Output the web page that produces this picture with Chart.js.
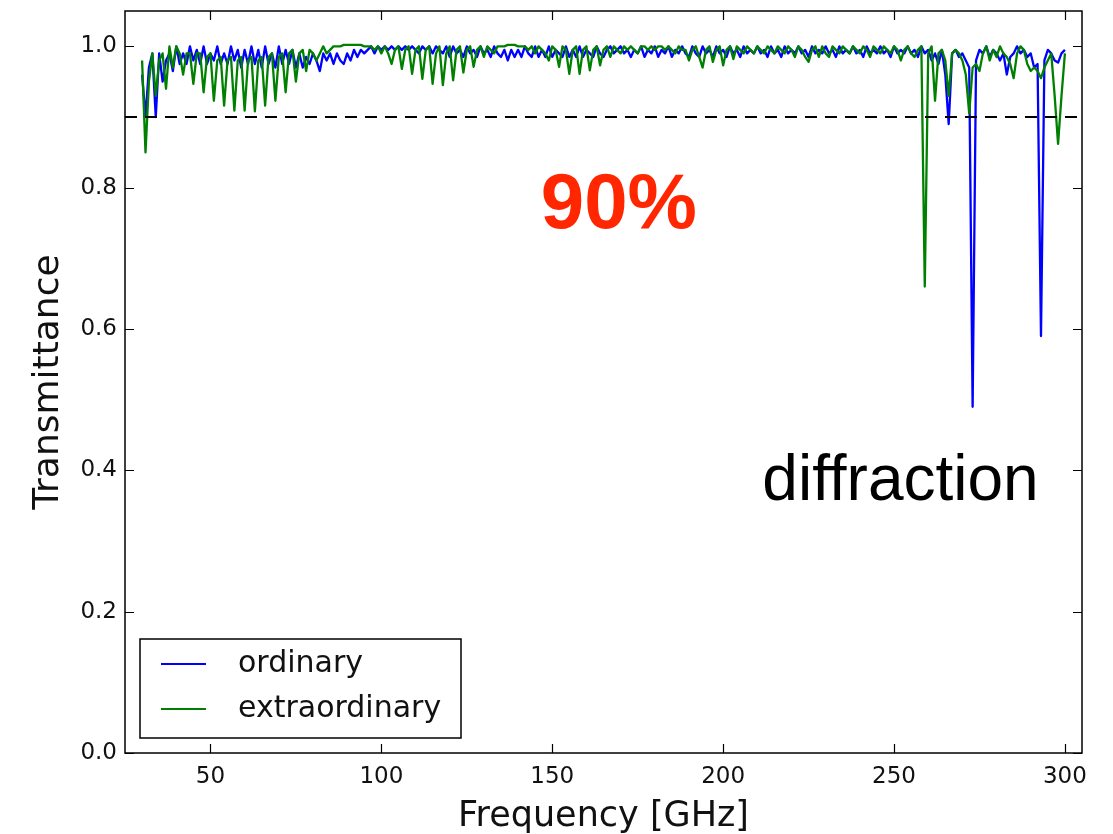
<!DOCTYPE html>
<html>
<head>
<meta charset="utf-8">
<script src="https://cdn.jsdelivr.net/npm/chart.js@4.4.0/dist/chart.umd.min.js"></script>
<style>
	html, body { margin: 0; padding: 0; background: #fff; }
	#wrap { width: 1113px; height: 834px; position: relative; }
</style>
</head>
<body>
<div id="wrap"><canvas id="chart"></canvas></div>
<script>
// frequency grid [GHz]
const freqs = [
	30,31,32,33,34,35,36,37,38,39,40,41,42,43,44,45,46,47,48,49,
	50,51,52,53,54,55,56,57,58,59,60,61,62,63,64,65,66,67,68,69,
	70,71,72,73,74,75,76,77,78,79,80,81,82,83,84,85,86,87,88,89,
	90,91,92,93,94,95,96,97,98,99,100,101,102,103,104,105,106,107,108,109,
	110,111,112,113,114,115,116,117,118,119,120,121,122,123,124,125,126,127,128,129,
	130,131,132,133,134,135,136,137,138,139,140,141,142,143,144,145,146,147,148,149,
	150,151,152,153,154,155,156,157,158,159,160,161,162,163,164,165,166,167,168,169,
	170,171,172,173,174,175,176,177,178,179,180,181,182,183,184,185,186,187,188,189,
	190,191,192,193,194,195,196,197,198,199,200,201,202,203,204,205,206,207,208,209,
	210,211,212,213,214,215,216,217,218,219,220,221,222,223,224,225,226,227,228,229,
	230,231,232,233,234,235,236,237,238,239,240,241,242,243,244,245,246,247,248,249,
	250,251,252,253,254,255,256,257,258,259,260,261,262,263,264,265,266,267,268,269,
	270,271,272,273,274,275,276,277,278,279,280,281,282,283,284,285,286,287,288,289,
	290,291,292,293,294,295,296,297,298,299,300
];

// ordinary (blue)
const ordinary = [
	0.96, 0.90, 0.97, 0.99, 0.90, 0.99, 0.95, 0.98, 0.99, 0.965,
	1.0, 0.975, 0.99, 0.975, 1.0, 0.98, 0.995, 0.975, 1.0, 0.975,
	0.99, 0.98, 1.0, 0.975, 0.99, 0.975, 1.0, 0.98, 0.995, 0.97,
	0.995, 0.975, 1.0, 0.975, 0.995, 0.97, 1.0, 0.975, 0.99, 0.97,
	1.0, 0.975, 0.995, 0.975, 0.995, 0.97, 0.99, 0.97, 0.985, 0.975,
	0.99, 0.98, 0.965, 0.99, 0.98, 0.99, 0.975, 0.99, 0.98, 0.975,
	0.99, 0.98, 0.995, 0.985, 0.995, 0.99, 0.995, 1.0, 0.99, 1.0,
	0.995, 1.0, 0.995, 1.0, 0.995, 1.0, 0.995, 1.0, 0.995, 1.0,
	0.995, 0.99, 1.0, 0.995, 1.0, 0.99, 1.0, 0.995, 0.99, 1.0,
	0.985, 1.0, 0.99, 0.995, 0.985, 1.0, 0.99, 0.995, 0.985, 1.0,
	0.99, 0.995, 0.985, 1.0, 0.99, 0.985, 0.995, 0.98, 0.995, 0.985,
	0.995, 0.985, 1.0, 0.99, 0.985, 1.0, 0.985, 0.995, 0.985, 1.0,
	0.985, 0.995, 0.99, 0.985, 1.0, 0.985, 0.995, 0.985, 1.0, 0.985,
	0.995, 0.99, 0.985, 1.0, 0.99, 0.985, 0.995, 1.0, 0.99, 0.995,
	1.0, 0.99, 0.995, 0.985, 0.995, 0.99, 1.0, 0.985, 0.995, 0.99,
	1.0, 0.985, 0.995, 0.99, 1.0, 0.985, 0.995, 0.99, 1.0, 0.99,
	0.985, 1.0, 0.99, 0.985, 1.0, 0.99, 0.995, 0.985, 1.0, 0.99,
	0.995, 0.985, 1.0, 0.99, 0.995, 0.985, 1.0, 0.99, 0.995, 0.99,
	1.0, 0.99, 0.995, 0.985, 1.0, 0.99, 0.995, 0.985, 1.0, 0.99,
	0.995, 0.99, 1.0, 0.99, 0.995, 0.985, 1.0, 0.99, 0.995, 0.99,
	1.0, 0.99, 0.995, 0.985, 1.0, 0.99, 0.995, 0.99, 1.0, 0.99,
	0.995, 0.985, 1.0, 0.99, 0.995, 0.99, 1.0, 0.99, 0.995, 0.985,
	1.0, 0.99, 0.995, 0.99, 1.0, 0.99, 0.995, 0.985, 1.0, 0.99,
	0.995, 0.98, 0.99, 0.975, 0.995, 0.96, 0.89, 0.99, 0.995, 0.985,
	0.99, 0.98, 0.97, 0.49, 0.98, 0.995, 0.99, 1.0, 0.985, 0.995,
	0.99, 0.98, 0.99, 0.96, 0.985, 0.99, 1.0, 0.99, 0.995, 0.985,
	0.99, 0.97, 0.975, 0.59, 0.98, 0.995, 0.99, 0.98, 0.977, 0.99, 0.995
];

// extraordinary (green)
const extraordinary = [
	0.98, 0.85, 0.95, 0.99, 0.93, 0.98, 0.99, 0.94, 1.0, 0.97,
	1.0, 0.99, 0.96, 0.99, 0.99, 0.947, 0.99, 0.99, 0.935, 0.985,
	0.99, 0.923, 0.98, 0.985, 0.916, 0.98, 0.985, 0.909, 0.98, 0.985,
	0.909, 0.98, 0.985, 0.908, 0.98, 0.985, 0.916, 0.985, 0.99, 0.923,
	0.985, 0.99, 0.935, 0.99, 0.995, 0.95, 0.99, 0.995, 0.965, 0.995,
	0.99, 0.98, 0.99, 1.0, 0.99, 0.995, 1.0, 1.0, 1.0, 1.002,
	1.002, 1.002, 1.002, 1.002, 1.002, 1.0, 1.0, 1.0, 0.995, 1.0,
	0.99, 1.0, 0.99, 0.975, 0.995, 1.0, 0.968, 0.995, 1.0, 0.961,
	0.995, 1.0, 0.954, 0.995, 1.0, 0.947, 0.99, 1.0, 0.945, 0.99,
	1.0, 0.952, 0.995, 1.0, 0.963, 0.995, 1.0, 0.971, 0.995, 1.0,
	0.985, 1.0, 0.995, 0.99, 1.0, 1.0, 1.0, 1.002, 1.002, 1.002,
	1.0, 1.0, 1.0, 0.995, 1.0, 0.99, 1.0, 0.995, 0.99, 0.98,
	1.0, 0.995, 0.971, 1.0, 0.995, 0.961, 0.995, 1.0, 0.961, 0.995,
	1.0, 0.966, 0.995, 1.0, 0.973, 0.995, 1.0, 0.985, 1.0, 0.995,
	0.99, 1.0, 0.995, 1.0, 0.995, 0.99, 1.0, 1.0, 0.995, 1.0,
	0.995, 1.0, 1.0, 0.995, 1.0, 0.995, 0.99, 1.0, 0.995, 0.995,
	0.98, 0.995, 1.0, 0.985, 0.97, 0.995, 1.0, 0.978, 0.995, 1.0,
	0.973, 0.995, 1.0, 0.982, 1.0, 0.995, 0.99, 1.0, 0.995, 0.99,
	1.0, 0.995, 0.99, 1.0, 0.995, 0.99, 1.0, 0.995, 0.99, 1.0,
	0.995, 0.985, 1.0, 0.995, 0.985, 0.978, 0.995, 1.0, 0.985, 1.0,
	0.99, 0.985, 1.0, 0.995, 0.99, 1.0, 0.995, 0.99, 1.0, 0.995,
	0.99, 1.0, 0.995, 0.985, 1.0, 0.995, 0.99, 1.0, 0.995, 0.99,
	1.0, 0.995, 0.98, 0.995, 1.0, 0.99, 0.985, 0.995, 1.0, 0.66,
	0.99, 1.0, 0.923, 0.99, 0.995, 0.98, 0.93, 0.99, 0.995, 0.99,
	0.98, 0.96, 0.905, 0.97, 0.975, 0.965, 0.99, 1.0, 0.98, 0.995,
	0.985, 1.0, 0.99, 0.985, 0.975, 0.955, 0.99, 1.0, 0.995, 0.975,
	0.965, 0.97, 0.965, 0.955, 0.97, 0.98, 0.99, 0.93, 0.862, 0.93, 0.99
];

const threshold = 0.9;
const xTicks = [50, 100, 150, 200, 250, 300];
const yTicks = [0.0, 0.2, 0.4, 0.6, 0.8, 1.0];
const seriesNames = ["ordinary", "extraordinary"];
const seriesColors = ["#0000ff", "#008000"];

function to_points(xs, ys) {
	let pts = [];
	for (let i = 0; i < xs.length; i++) {
		pts.push({ x: xs[i], y: ys[i] });
	}
	return pts;
}

// box, inward ticks, legend and the two text notes
const decorations = {
	id: "decorations",
	afterDraw(chart) {
		const { ctx, chartArea: a, scales } = chart;
		const x = scales.x;
		const y = scales.y;
		ctx.save();

		ctx.strokeStyle = "#000";
		ctx.lineWidth = 1.5;
		ctx.strokeRect(a.left, a.top, a.right - a.left, a.bottom - a.top);

		ctx.beginPath();
		xTicks.forEach((v) => {
			const px = Math.round(x.getPixelForValue(v)) + 0.5;
			ctx.moveTo(px, a.bottom);
			ctx.lineTo(px, a.bottom - 9);
			ctx.moveTo(px, a.top);
			ctx.lineTo(px, a.top + 9);
		});
		yTicks.forEach((v) => {
			const py = Math.round(y.getPixelForValue(v)) + 0.5;
			ctx.moveTo(a.left, py);
			ctx.lineTo(a.left + 9, py);
			ctx.moveTo(a.right, py);
			ctx.lineTo(a.right - 9, py);
		});
		ctx.lineWidth = 1.2;
		ctx.stroke();

		// notes
		ctx.fillStyle = "rgb(255,38,0)";
		ctx.font = "bold 78px 'Liberation Sans', Arial, sans-serif";
		ctx.textAlign = "center";
		ctx.textBaseline = "alphabetic";
		ctx.fillText("90%", x.getPixelForValue(169.5), y.getPixelForValue(0.743));

		ctx.fillStyle = "#000";
		ctx.font = "64px 'Liberation Sans', Arial, sans-serif";
		ctx.fillText("diffraction", x.getPixelForValue(251.9), y.getPixelForValue(0.358));

		// legend
		const lx = a.left + 15;
		const ly = a.bottom - 114;
		ctx.fillStyle = "#fff";
		ctx.fillRect(lx, ly, 321, 99);
		ctx.strokeStyle = "#000";
		ctx.lineWidth = 1.5;
		ctx.strokeRect(lx, ly, 321, 99);
		ctx.font = "30px 'DejaVu Sans'";
		ctx.textAlign = "left";
		ctx.textBaseline = "middle";
		for (let i = 0; i < seriesNames.length; i++) {
			const rowY = ly + 25 + i * 45;
			ctx.strokeStyle = seriesColors[i];
			ctx.lineWidth = 2;
			ctx.beginPath();
			ctx.moveTo(lx + 21, rowY);
			ctx.lineTo(lx + 66, rowY);
			ctx.stroke();
			ctx.fillStyle = "#111";
			ctx.fillText(seriesNames[i], lx + 98, rowY);
		}
		ctx.restore();
	},
};

const ctx = document.getElementById("chart").getContext("2d");

const myChart = new Chart(ctx, {
	type: "line",
	data: {
		datasets: [
			{
				label: seriesNames[0],
				data: to_points(freqs, ordinary),
				borderColor: seriesColors[0],
				borderWidth: 2.3,
				borderJoinStyle: "round",
				pointRadius: 0,
				order: 2,
			},
			{
				label: seriesNames[1],
				data: to_points(freqs, extraordinary),
				borderColor: seriesColors[1],
				borderWidth: 2.3,
				borderJoinStyle: "round",
				pointRadius: 0,
				order: 1,
			},
			{
				label: "90%",
				data: [
					{ x: 25, y: threshold },
					{ x: 305, y: threshold },
				],
				borderColor: "#000",
				borderWidth: 2,
				borderDash: [12, 8],
				pointRadius: 0,
				order: 0,
			},
		],
	},
	options: {
		responsive: true,
		maintainAspectRatio: false,
		animation: false,
		layout: { padding: { left: 0, right: 31, top: 11, bottom: 0 } },
		plugins: {
			legend: { display: false },
			tooltip: { enabled: false },
		},
		scales: {
			x: {
				type: "linear",
				min: 25,
				max: 305,
				afterBuildTicks: (axis) => {
					axis.ticks = xTicks.map((v) => ({ value: v }));
				},
				afterFit: (axis) => {
					axis.height = 81;
					axis.paddingLeft = 0;
					axis.paddingRight = 0;
				},
				grid: { display: false, drawTicks: false },
				border: { display: false },
				ticks: {
					font: { family: "DejaVu Sans", size: 23 },
					color: "#111",
					padding: 10,
					maxRotation: 0,
					autoSkip: false,
				},
				title: {
					display: true,
					text: "Frequency [GHz]",
					font: { family: "DejaVu Sans", size: 35, lineHeight: 1.0 },
					color: "#111",
					padding: { top: 0, bottom: 0 },
				},
			},
			y: {
				min: 0,
				max: 1.05,
				afterBuildTicks: (axis) => {
					axis.ticks = yTicks.map((v) => ({ value: v }));
				},
				afterFit: (axis) => {
					axis.width = 125;
					axis.paddingTop = 0;
					axis.paddingBottom = 0;
				},
				grid: { display: false, drawTicks: false },
				border: { display: false },
				ticks: {
					font: { family: "DejaVu Sans", size: 23 },
					color: "#111",
					padding: 8,
					callback: (v) => v.toFixed(1),
				},
				title: {
					display: true,
					text: "Transmittance",
					font: { family: "DejaVu Sans", size: 36 },
					color: "#111",
					padding: { top: 27, bottom: 0 },
				},
			},
		},
	},
	plugins: [decorations],
});
</script>
</body>
</html>
